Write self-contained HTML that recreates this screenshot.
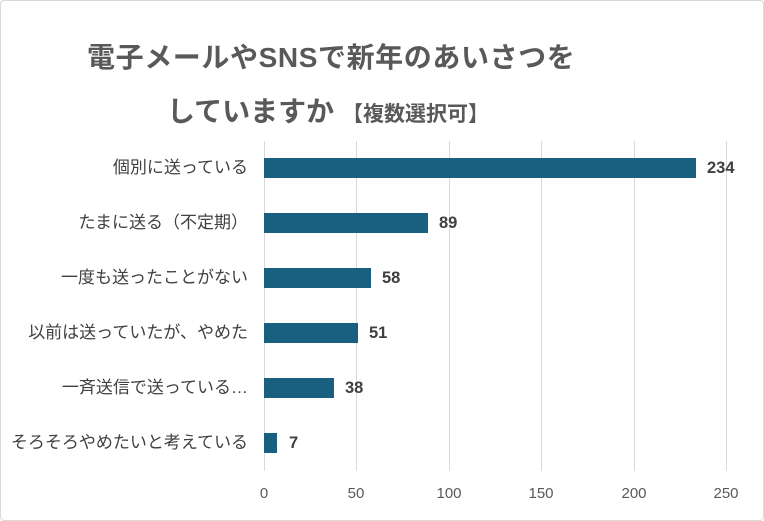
<!DOCTYPE html><html><head><meta charset="utf-8"><style>
body{margin:0;width:764px;height:521px;background:#fff;overflow:hidden;font-family:"Liberation Sans","Noto Sans CJK JP",sans-serif}
.b{position:absolute;left:0;top:0;width:762px;height:519px;border:1px solid #d9d9d9;border-radius:4px}
.t{position:absolute;color:#595959;font-weight:bold;white-space:nowrap}
.g{position:absolute;top:141px;height:330px;width:1px;background:#d9d9d9}
.bar{position:absolute;left:264px;height:20px;background:#185f80}
.c{position:absolute;right:516px;font-size:17px;color:#404040;white-space:nowrap;line-height:20px}
.v{position:absolute;font-size:16.5px;font-weight:bold;color:#404040;line-height:20px}
.x{position:absolute;top:485px;font-size:15px;color:#595959;width:40px;text-align:center;margin-left:-20px}
</style></head><body><div class="b"></div>
<div class="t" style="left:87px;top:36px;font-size:28px;letter-spacing:0.6px">電子メールやSNSで新年のあいさつを</div>
<div class="t" style="left:167px;top:90px;font-size:28px">していますか <span style="font-size:21px">【複数選択可】</span></div>
<div class="g" style="left:264px"></div><div class="g" style="left:356px"></div><div class="g" style="left:449px"></div><div class="g" style="left:541px"></div><div class="g" style="left:634px"></div><div class="g" style="left:726px"></div>
<div class="bar" style="top:158px;width:432px"></div><div class="c" style="top:158px">個別に送っている</div><div class="v" style="left:707px;top:158px">234</div>
<div class="bar" style="top:213px;width:164px"></div><div class="c" style="top:213px">たまに送る（不定期）</div><div class="v" style="left:439px;top:213px">89</div>
<div class="bar" style="top:268px;width:107px"></div><div class="c" style="top:268px">一度も送ったことがない</div><div class="v" style="left:382px;top:268px">58</div>
<div class="bar" style="top:323px;width:94px"></div><div class="c" style="top:323px">以前は送っていたが、やめた</div><div class="v" style="left:369px;top:323px">51</div>
<div class="bar" style="top:378px;width:70px"></div><div class="c" style="top:378px">一斉送信で送っている…</div><div class="v" style="left:345px;top:378px">38</div>
<div class="bar" style="top:433px;width:13px"></div><div class="c" style="top:433px">そろそろやめたいと考えている</div><div class="v" style="left:289px;top:433px">7</div>
<div class="x" style="left:264px">0</div><div class="x" style="left:356px">50</div><div class="x" style="left:449px">100</div><div class="x" style="left:541px">150</div><div class="x" style="left:634px">200</div><div class="x" style="left:726px">250</div>
</body></html>
